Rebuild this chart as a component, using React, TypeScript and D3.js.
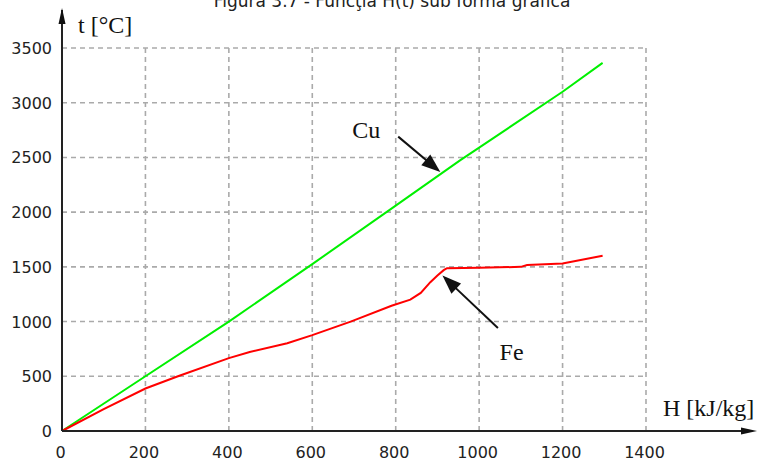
import React from "react";
import * as d3 from "d3";

// Enthalpy H [kJ/kg] vs temperature t [°C]
const cuH = [0, 200, 400, 600, 800, 955, 1000, 1200, 1296];
const cuT = [0, 500, 1000, 1525, 2060, 2475, 2590, 3100, 3364];

const feH = [0, 100, 200, 278, 400, 450, 540, 600, 692, 790, 835, 860, 883, 900, 915, 923, 1000, 1100, 1115, 1200, 1296];
const feT = [0, 200, 388, 500, 666, 722, 802, 876, 1000, 1145, 1200, 1262, 1360, 1420, 1470, 1488, 1492, 1500, 1516, 1531, 1602];

const xTicks = [0, 200, 400, 600, 800, 1000, 1200, 1400];
const yTicks = [0, 500, 1000, 1500, 2000, 2500, 3000, 3500];

// Annotation labels with arrows, in data units
const labelNames = ["Cu", "Fe"];
const labelAt = [[696, 2681], [1049, 649]];
const arrowFrom = [[806, 2690], [1045, 941]];
const arrowTo = [[907, 2367], [912, 1421]];

const W = 758;
const H = 463;

export default function App() {
  const x = d3.scaleLinear().domain([0, 1400]).range([62, 646]);
  const y = d3.scaleLinear().domain([0, 3500]).range([431, 48]);

  const line = d3
    .line<[number, number]>()
    .x((d) => x(d[0]))
    .y((d) => y(d[1]));

  const cu = cuH.map((h, i) => [h, cuT[i]] as [number, number]);
  const fe = feH.map((h, i) => [h, feT[i]] as [number, number]);

  const x0 = x(0);
  const y0 = y(0);
  const xMax = x(1400);
  const yMax = y(3500);

  const arrowHead = (fx: number, fy: number, tx: number, ty: number, len: number, half: number) => {
    const dx = tx - fx;
    const dy = ty - fy;
    const L = Math.hypot(dx, dy);
    const ux = dx / L;
    const uy = dy / L;
    const bx = tx - ux * len;
    const by = ty - uy * len;
    return `${tx},${ty} ${bx - uy * half},${by + ux * half} ${bx + uy * half},${by - ux * half}`;
  };

  const serif = "'Liberation Serif', 'Times New Roman', serif";
  const sans = "'DejaVu Sans', Verdana, sans-serif";

  return (
    <svg
      width={W}
      height={H}
      style={{ position: "absolute", left: 0, top: 0, background: "#fff" }}
    >
      <text x={392} y={7} textAnchor="middle" fontFamily={sans} fontSize={17} fill="#222">
        Figura 3.7 - Funcţia H(t) sub forma grafica
      </text>

      {/* grid */}
      <g stroke="#aaa" strokeWidth={1.6} strokeDasharray="5,4" fill="none">
        {xTicks.slice(1).map((t) => (
          <line key={`gx${t}`} x1={x(t)} x2={x(t)} y1={yMax} y2={y0} />
        ))}
        {yTicks.slice(1).map((t) => (
          <line key={`gy${t}`} x1={x0} x2={xMax} y1={y(t)} y2={y(t)} />
        ))}
      </g>

      {/* curves */}
      <path d={line(cu) || ""} fill="none" stroke="#00f000" strokeWidth={2} />
      <path d={line(fe) || ""} fill="none" stroke="#ff0000" strokeWidth={2} />

      {/* axes */}
      <g stroke="#222" strokeWidth={2}>
        <line x1={x0} x2={x0} y1={y0} y2={10} />
        <line x1={x0} x2={745} y1={y0} y2={y0} />
      </g>
      <polygon points={`${x0},8 ${x0 - 3.5},24 ${x0 + 3.5},24`} fill="#111" />
      <polygon points={`757,${y0} 741,${y0 - 3.5} 741,${y0 + 3.5}`} fill="#111" />

      {/* tick labels */}
      <g fontFamily={sans} fontSize={16} fill="#222">
        {yTicks.map((t) => (
          <text key={`ty${t}`} x={52} y={y(t) + 6} textAnchor="end">
            {t}
          </text>
        ))}
        {xTicks.map((t) => (
          <text key={`tx${t}`} x={x(t) - 1.5} y={458} textAnchor="middle">
            {t}
          </text>
        ))}
      </g>

      {/* axis titles */}
      <g fontFamily={serif} fontSize={24} fill="#111">
        <text x={78} y={33}>t [°C]</text>
        <text x={663} y={416}>H [kJ/kg]</text>
      </g>

      {/* annotations */}
      {labelNames.map((name, i) => {
        const fx = x(arrowFrom[i][0]);
        const fy = y(arrowFrom[i][1]);
        const tx = x(arrowTo[i][0]);
        const ty = y(arrowTo[i][1]);
        const L = Math.hypot(tx - fx, ty - fy);
        const ex = tx - ((tx - fx) / L) * 14;
        const ey = ty - ((ty - fy) / L) * 14;
        return (
          <g key={name}>
            <text x={x(labelAt[i][0])} y={y(labelAt[i][1])} fontFamily={serif} fontSize={24} fill="#111">
              {name}
            </text>
            <line x1={fx} y1={fy} x2={ex} y2={ey} stroke="#111" strokeWidth={2} />
            <polygon points={arrowHead(fx, fy, tx, ty, 19, 7)} fill="#111" />
          </g>
        );
      })}
    </svg>
  );
}
